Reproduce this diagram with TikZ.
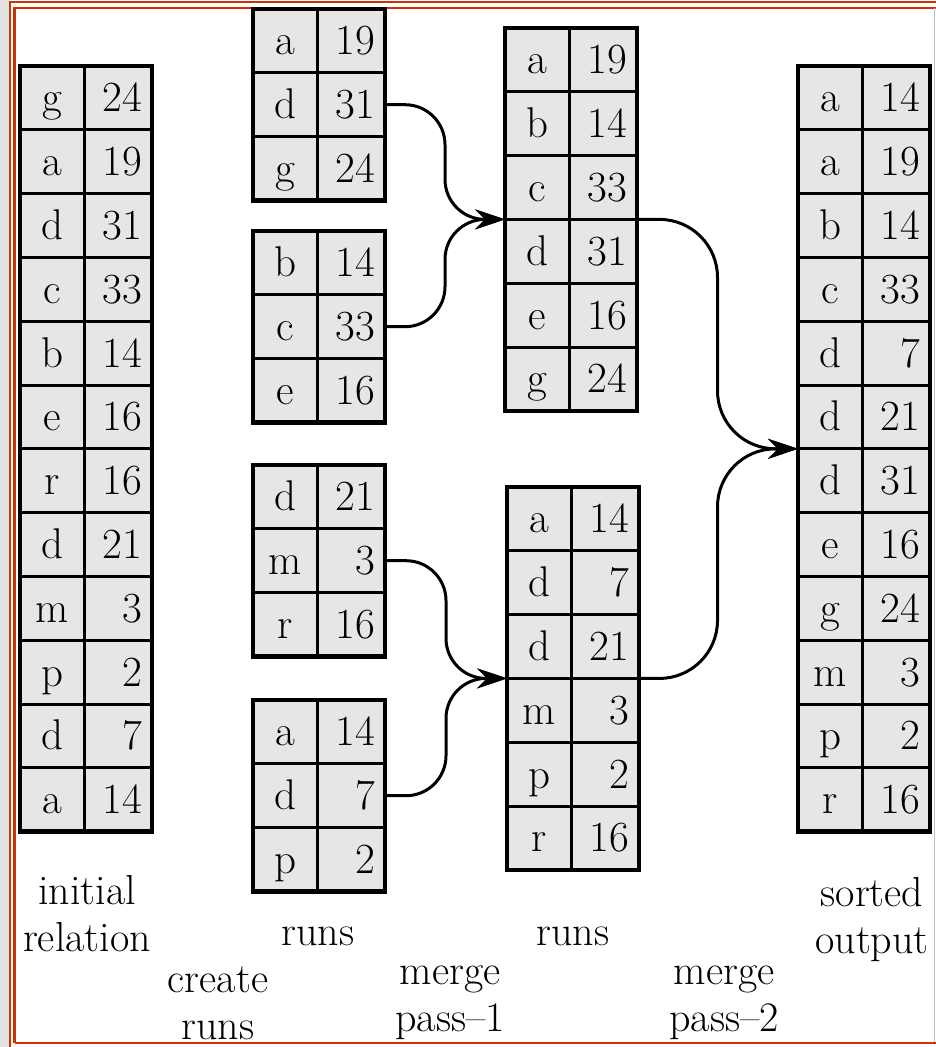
\documentclass[tikz,border=0pt]{standalone}
\usepackage{fontspec}
\usetikzlibrary{arrows.meta,calc}

\definecolor{cellgray}{RGB}{230,230,230}
\definecolor{frameorange}{RGB}{204,51,0}
\definecolor{stripgray}{RGB}{226,226,226}

\tikzset{
	cell/.style={draw, line width=3pt, fill=cellgray, minimum height=63.8pt, inner sep=0pt, outer sep=0pt, text height=28pt, text depth=0pt, font=\fontsize{43}{47}\selectfont},
	keycell/.style={cell, minimum width=64pt},
	valcell/.style={cell, minimum width=68pt, text width=48pt, align=right},
	merge/.style={line width=3pt, rounded corners=40pt, -{Stealth[length=30pt,width=20pt,inset=10pt]}},
	caption/.style={font=\fontsize{42}{47}\selectfont, align=center},
}

% one run: name, left x, top y, rows key/value
\newcommand{\runtable}[4]{%
	\foreach \tkey/\tval [count=\i] in {#4} {
		\node[keycell] (#1-\i-l) at ({#2+32},{#3+(\i-0.5)*63.8}) {\tkey};
		\node[valcell] (#1-\i-r) at ({#2+98},{#3+(\i-0.5)*63.8}) {\tval};
		\xdef\lastrow{\i}
	}
	\draw[line width=4.5pt] (#1-1-l.north west) rectangle (#1-\lastrow-r.south east);
}

\begin{document}
\begin{tikzpicture}[x=1pt, y=-1pt]
	\useasboundingbox (0,0) rectangle (936,1047);

	% frame
	\fill[stripgray] (0,0) rectangle (9,1047);
	\draw[frameorange, line width=2.5pt] (10,1047) |- (936,2);
	\draw[frameorange, line width=2.5pt] (14.5,1043) |- (936,8);
	\draw[frameorange, line width=2.5pt] (14.5,1043) -- (936,1043);
	\draw[gray!50, line width=1pt] (934,8) -- (934,1042);

	\runtable{init}{20}{66}{g/24, a/19, d/31, c/33, b/14, e/16, r/16, d/21, m/3, p/2, d/7, a/14}

	\runtable{ra}{253}{9}{a/19, d/31, g/24}
	\runtable{rb}{253}{231}{b/14, c/33, e/16}
	\runtable{rc}{253}{465}{d/21, m/3, r/16}
	\runtable{rd}{253}{700}{a/14, d/7, p/2}

	\runtable{sa}{505}{28}{a/19, b/14, c/33, d/31, e/16, g/24}
	\runtable{sb}{507}{487}{a/14, d/7, d/21, m/3, p/2, r/16}

	\runtable{out}{798}{66}{a/14, a/19, b/14, c/33, d/7, d/21, d/31, e/16, g/24, m/3, p/2, r/16}

	\coordinate (joina) at ($(ra-2-r.east)!0.5!(sa-3-l.south west)$);
	\coordinate (joinb) at ($(rc-2-r.east)!0.5!(sb-3-l.south west)$);
	\coordinate (joinc) at ($(sa-3-r.south east)!0.5!(out-6-l.south west)$);

	% merge pass 1
	\draw[merge] (ra-2-r.east) -| (joina |- sa-3-l.south west) -- (sa-3-l.south west);
	\draw[merge] (rb-2-r.east) -| (joina |- sa-3-l.south west) -- (sa-3-l.south west);
	\draw[merge] (rc-2-r.east) -| (joinb |- sb-3-l.south west) -- (sb-3-l.south west);
	\draw[merge] (rd-2-r.east) -| (joinb |- sb-3-l.south west) -- (sb-3-l.south west);

	% merge pass 2
	\draw[merge, rounded corners=58pt] (sa-3-r.south east) -| (joinc |- out-6-l.south west) -- (out-6-l.south west);
	\draw[merge, rounded corners=58pt] (sb-3-r.south east) -| (joinc |- out-6-l.south west) -- (out-6-l.south west);

	\node[caption] (initlabel) at (87,914) {initial\\relation};
	\node[caption, anchor=base] (runslabela) at (318,945) {runs};
	\node[caption, anchor=base] (runslabelb) at (573,945) {runs};
	\node[caption] (outlabel) at (872,920) {sorted\\output};
	\node[caption] (createlabel) at (218,1003) {create\\runs};
	\node[caption] (passalabel) at (450,1003) {merge\\pass--1};
	\node[caption] (passblabel) at (724,1003) {merge\\pass--2};
\end{tikzpicture}
\end{document}
